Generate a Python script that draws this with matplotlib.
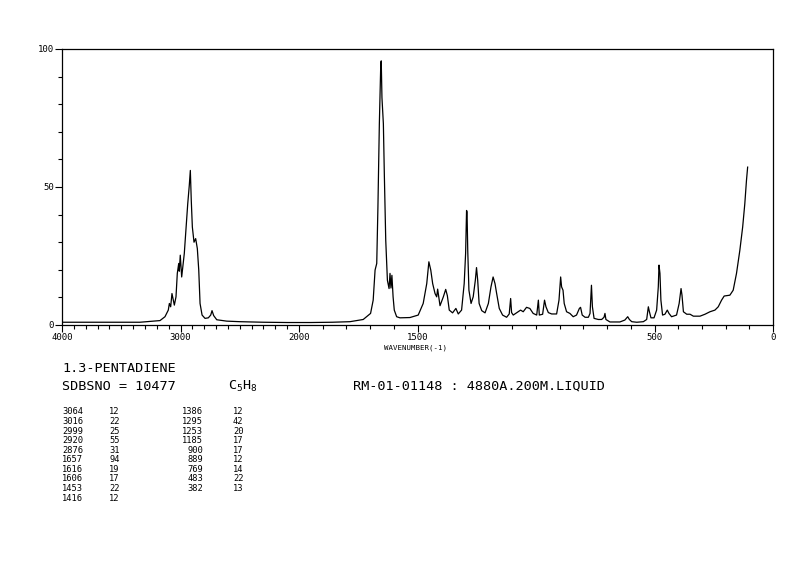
import numpy as np
import matplotlib
matplotlib.use("Agg")
from matplotlib import pyplot as plt

plt.rcParams['font.family'] = ['DejaVu Sans Mono']

# spectrum trace (wavenumber cm-1, relative intensity)
wavenumber = [4000, 3600, 3342, 3173, 3131, 3103, 3094, 3083, 3072, 3061,
              3052, 3038, 3027, 3015, 3010, 3002, 2990, 2981, 2968, 2953,
              2939, 2926, 2917, 2909, 2900, 2886, 2872, 2858, 2846, 2835,
              2818, 2793, 2765, 2745, 2734, 2720, 2694, 2610, 2498, 2300,
              2100, 1950, 1860, 1785, 1729, 1698, 1687, 1679, 1672, 1667,
              1661, 1655, 1653, 1650, 1644, 1640, 1634, 1627, 1620, 1616,
              1612, 1608, 1603, 1598, 1588, 1574, 1532, 1497, 1476, 1461,
              1452, 1444, 1436, 1426, 1419, 1415, 1405, 1391, 1381, 1374,
              1366, 1352, 1338, 1328, 1314, 1303, 1297, 1293, 1291, 1288,
              1283, 1274, 1265, 1256, 1251, 1246, 1240, 1229, 1215, 1201,
              1190, 1181, 1173, 1166, 1155, 1141, 1124, 1113, 1107, 1103,
              1096, 1082, 1065, 1054, 1040, 1026, 1012, 997, 990, 986,
              972, 964, 958, 948, 934, 913, 903, 896, 892, 886,
              881, 871, 857, 843, 829, 817, 812, 805, 793, 779,
              772, 766, 762, 755, 737, 723, 713, 709, 705, 688,
              646, 625, 613, 606, 596, 575, 547, 533, 526, 522,
              515, 502, 491, 484, 481, 477, 473, 466, 456, 446,
              439, 428, 407, 396, 388, 384, 378, 364, 350, 336,
              308, 287, 266, 245, 231, 217, 206, 182, 168, 154,
              140, 128, 119, 112, 107]
intensity = [1.0, 1.0, 1.0, 1.6, 3.0, 5.4, 7.8, 6.6, 11.4, 9.0,
             7.2, 10.2, 18.7, 22.3, 19.5, 25.3, 17.4, 21.0, 25.9, 35.5,
             43.9, 50.5, 56.0, 45.0, 35.5, 30.0, 31.3, 27.7, 19.9, 7.8,
             3.6, 2.4, 2.6, 3.6, 5.2, 3.4, 1.9, 1.4, 1.2, 1.0,
             0.9, 0.9, 1.0, 1.2, 2.0, 4.2, 9.0, 19.9, 22.3, 42.7,
             72.8, 94.5, 95.7, 82.4, 72.9, 54.8, 30.7, 16.2, 13.2, 18.7,
             13.4, 18.0, 10.2, 5.4, 3.0, 2.6, 2.7, 3.6, 7.8, 15.0,
             22.9, 19.9, 15.0, 11.4, 10.2, 13.0, 7.0, 10.2, 12.9, 10.6,
             5.4, 4.4, 6.0, 4.0, 5.4, 15.0, 25.9, 41.5, 41.0, 27.0,
             12.6, 7.8, 10.2, 16.2, 20.8, 16.2, 7.8, 5.2, 4.4, 7.8,
             13.8, 17.4, 15.0, 11.4, 6.0, 3.6, 2.8, 4.0, 9.6, 4.5,
             3.6, 4.4, 5.4, 4.8, 6.4, 6.0, 4.2, 3.6, 9.0, 3.6,
             3.9, 9.0, 6.6, 4.5, 4.0, 4.0, 9.0, 17.4, 13.8, 12.6,
             7.8, 4.8, 4.2, 3.0, 3.6, 6.0, 6.4, 3.6, 2.8, 2.8,
             4.2, 14.4, 6.6, 2.4, 2.0, 2.0, 2.8, 4.2, 2.0, 1.1,
             1.1, 1.8, 3.0, 2.0, 1.2, 1.0, 1.2, 2.0, 6.6, 5.0,
             2.6, 2.6, 5.4, 13.8, 21.7, 18.7, 9.0, 3.6, 3.9, 5.4,
             4.2, 3.0, 3.6, 7.8, 13.2, 10.8, 4.8, 3.9, 3.9, 3.2,
             3.2, 3.9, 4.8, 5.4, 6.6, 9.0, 10.5, 10.8, 12.6, 18.7,
             27.0, 35.5, 43.9, 52.3, 57.2]

# peak table
peak_wn_1 = ['3064', '3016', '2999', '2920', '2876', '1657', '1616', '1606', '1453', '1416']
peak_int_1 = ['12', '22', '25', '55', '31', '94', '19', '17', '22', '12']
peak_wn_2 = ['1386', '1295', '1253', '1185', '900', '889', '769', '483', '382']
peak_int_2 = ['12', '42', '20', '17', '17', '12', '14', '22', '13']

xticks_major = [4000, 3000, 2000, 1500, 500, 0]
yticks_major = [0, 50, 100]

W, H = 794, 567


# 4000-2000 is drawn at half the scale of 2000-0
def fwd(w):
	w = np.asarray(w, dtype=float)
	return np.where(w <= 2000, w, 2000 + (w - 2000) / 2.0)


def inv(v):
	v = np.asarray(v, dtype=float)
	return np.where(v <= 2000, v, 2000 + (v - 2000) * 2.0)


fig = plt.figure(figsize=(W / 100, H / 100), dpi=100)
ax = fig.add_axes([62 / W, 1 - 325 / H, (773 - 62) / W, (325 - 49) / H])
ax.set_xscale('function', functions=(fwd, inv))
ax.plot(wavenumber, intensity, color='black', linewidth=0.9)
ax.set_xlim(4000, 0)
ax.set_ylim(0, 100)

ax.set_xticks(xticks_major)
ax.set_xticks([t for t in range(0, 4001, 100) if t not in xticks_major], minor=True)
ax.set_yticks(yticks_major)
ax.set_yticks(list(range(0, 101, 10)), minor=True)
ax.tick_params(which='both', direction='out', labelsize=6.5, width=0.8, color='black')
ax.tick_params(which='major', length=5, pad=1)
ax.tick_params(which='minor', length=3)
for sp in ax.spines.values():
	sp.set_linewidth(0.9)

def ftext(x, y, s, size=9.7, **kw):
	fig.text(x / W, 1 - y / H, s, fontsize=size, va='center', **kw)

ftext(415, 348, 'WAVENUMBER(-1)', size=5.3, ha='center')
ftext(62, 369, '1.3-PENTADIENE')
ftext(62, 386, 'SDBSNO = 10477')
ftext(228, 386, r'$\mathregular{C_5H_8}$')
ftext(353, 386, 'RM-01-01148 : 4880A.200M.LIQUID')

row0, dy = 412, 9.57
for i in range(len(peak_wn_1)):
	ftext(62, row0 + i * dy, peak_wn_1[i], size=6.3)
	ftext(109, row0 + i * dy, peak_int_1[i], size=6.3)
for i in range(len(peak_wn_2)):
	ftext(203, row0 + i * dy, peak_wn_2[i], size=6.3, ha='right')
	ftext(233, row0 + i * dy, peak_int_2[i], size=6.3)

plt.savefig('out.png', dpi=100)
